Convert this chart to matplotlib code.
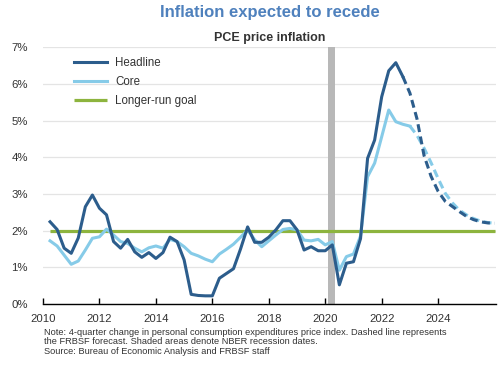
import numpy as np
import pandas as pd
import matplotlib
matplotlib.use("Agg")
import matplotlib.pyplot as plt

plt.rcParams['font.family'] = ['Liberation Sans', 'DejaVu Sans']

# quarterly 4-quarter % change, 2010Q1 - 2022
headline = [2.24, 2.03, 1.52, 1.38,
            1.80, 2.65, 2.97, 2.61,
            2.43, 1.70, 1.52, 1.76,
            1.42, 1.27, 1.40, 1.24,
            1.40, 1.82, 1.70, 1.20,
            0.26, 0.23, 0.22, 0.22,
            0.70, 0.83, 0.96, 1.50,
            2.10, 1.68, 1.68, 1.82,
            2.02, 2.27, 2.27, 2.02,
            1.47, 1.56, 1.45, 1.45,
            1.61, 0.52, 1.11, 1.15,
            1.78, 3.97, 4.47, 5.65,
            6.36, 6.58, 6.20]
core = [1.72, 1.58, 1.33, 1.08,
        1.17, 1.47, 1.79, 1.83,
        2.04, 1.88, 1.70, 1.65,
        1.52, 1.42, 1.53, 1.58,
        1.52, 1.76, 1.70, 1.56,
        1.38, 1.31, 1.22, 1.15,
        1.36, 1.49, 1.63, 1.82,
        2.02, 1.75, 1.56, 1.72,
        1.88, 2.03, 2.06, 2.02,
        1.74, 1.72, 1.76, 1.61,
        1.70, 0.92, 1.29, 1.36,
        1.85, 3.47, 3.84, 4.56,
        5.29, 4.97, 4.90, 4.85]
# FRBSF forecast (dashed)
headline_fc = [6.20, 5.75, 5.05, 4.05, 3.48, 3.07, 2.80, 2.66, 2.52, 2.39, 2.30, 2.24, 2.21, 2.20]
core_fc = [4.85, 4.60, 4.25, 3.85, 3.42, 3.02, 2.76, 2.56, 2.43, 2.33, 2.26, 2.22, 2.20]
goal = 2.0
recession = (2020.1, 2020.33)
year_ticks = [2010, 2012, 2014, 2016, 2018, 2020, 2022, 2024]
yticks = [0, 1, 2, 3, 4, 5, 6, 7]


def qpos(start, n):
    p = pd.period_range(start, periods=n, freq='Q')
    return p.year + p.quarter / 4.0


c_head = '#2c5d8c'
c_core = '#86cbe8'
c_goal = '#8db43e'

fig = plt.figure(figsize=(5, 3.65), dpi=100)
ax = fig.add_axes([0.086, 0.1674, 0.906, 0.703])

ax.axvspan(recession[0], recession[1], color='#b8b8b8', lw=0, zorder=1)
ax.plot([2010.25, 2026.0], [goal, goal], color=c_goal, lw=2.3, zorder=3,
        solid_capstyle='butt', label='Longer-run goal')

x_h = qpos('2010Q1', len(headline))
x_c = qpos('2010Q1', len(core))
x_hf = qpos('2022Q3', len(headline_fc))
x_cf = qpos('2022Q4', len(core_fc))

lc, = ax.plot(x_c, core, color=c_core, lw=2.2, zorder=4, label='Core')
ax.plot(x_cf, core_fc, color=c_core, lw=2.2, zorder=4, dashes=(2.6, 1.5))
lh, = ax.plot(x_h, headline, color=c_head, lw=2.2, zorder=5, label='Headline')
ax.plot(x_hf, headline_fc, color=c_head, lw=2.2, zorder=5, dashes=(2.6, 1.5))

ax.set_xlim(2010, 2026.05)
ax.set_ylim(0, 7)
ax.set_yticks(yticks)
ax.set_yticklabels([f'{v}%' for v in yticks])
ax.set_xticks(year_ticks)
ax.grid(axis='y', color='#e4e4e4', lw=0.9, zorder=0)
ax.set_axisbelow(True)
for s in ['top', 'right', 'left']:
    ax.spines[s].set_visible(False)
ax.spines['bottom'].set_color('black')
ax.spines['bottom'].set_linewidth(1.0)
ax.tick_params(axis='y', length=0, pad=11, labelsize=8.2, colors='#333333')
ax.tick_params(axis='x', direction='in', length=4, width=1.0, pad=7,
               labelsize=8.2, colors='black', labelcolor='#333333')

handles = [lh, lc, ax.lines[0]]
fig.legend(handles, ['Headline', 'Core', 'Longer-run goal'],
           loc='upper left', bbox_to_anchor=(0.148, 0.843), frameon=False,
           fontsize=8.3, handlelength=2.9, handletextpad=0.68, labelspacing=0.59,
           borderpad=0, borderaxespad=0, labelcolor='#333333')

fig.text(0.539, 0.967, 'Inflation expected to recede', ha='center', va='center',
         fontsize=12, fontweight='bold', color='#4f81bd')
fig.text(0.539, 0.895, 'PCE price inflation', ha='center', va='center',
         fontsize=9, fontweight='bold', color='#333333')
fig.text(0.087, 0.102,
         'Note: 4-quarter change in personal consumption expenditures price index. Dashed line represents\n'
         'the FRBSF forecast. Shaded areas denote NBER recession dates.\n'
         'Source: Bureau of Economic Analysis and FRBSF staff',
         ha='left', va='top', fontsize=6.7, linespacing=1.1, color='#333333')

fig.savefig('out.png', dpi=100)
